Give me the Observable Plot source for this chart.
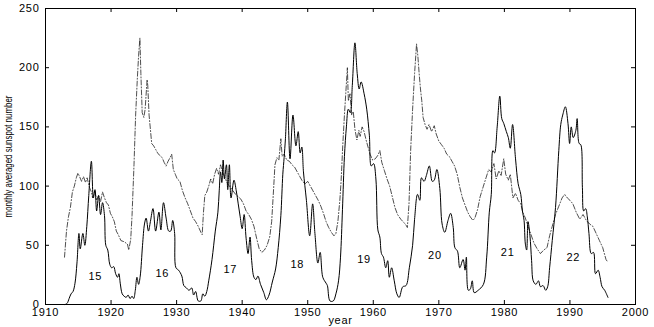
<!DOCTYPE html>
<html><head><meta charset="utf-8">
<script src="https://cdn.jsdelivr.net/npm/d3@7"></script>
<script src="https://cdn.jsdelivr.net/npm/@observablehq/plot@0.6"></script>
<style>
body{margin:0;background:#fff}
#chart svg text{letter-spacing:0.7px}
</style></head><body><div id="chart"></div>
<script>
// Solid line: monthly averaged sunspot number (smoothed)
const sunYears = [1913.0,1913.3,1913.6,1913.9,1914.2,1914.5,1914.8,1915.1,1915.3,1915.7,1916.0,1916.3,1916.6,1917.0,1917.3,1917.55,1917.8,1918.1,1918.4,1918.7,1919.0,1919.2,1919.5,1919.8,1920.1,1920.4,1920.7,1921.0,1921.2,1921.4,1921.7,1922.0,1922.3,1922.6,1922.9,1923.2,1923.45,1923.7,1923.95,1924.2,1924.45,1924.8,1925.1,1925.35,1925.7,1926.0,1926.4,1926.8,1927.3,1927.6,1928.0,1928.4,1928.8,1929.1,1929.4,1929.7,1929.9,1930.3,1930.8,1931.1,1931.5,1931.9,1932.3,1932.6,1932.9,1933.3,1933.7,1934.0,1934.3,1934.6,1934.9,1935.4,1935.9,1936.3,1936.5,1936.7,1936.9,1937.1,1937.3,1937.6,1937.8,1938.05,1938.3,1938.75,1939.1,1939.4,1939.7,1940.0,1940.3,1940.6,1940.9,1941.2,1941.45,1941.8,1942.1,1942.4,1942.8,1943.3,1943.7,1944.1,1944.6,1945.1,1945.5,1945.9,1946.2,1946.4,1946.6,1946.9,1947.3,1947.75,1948.2,1948.55,1948.85,1949.1,1949.35,1949.8,1950.3,1950.75,1951.1,1951.55,1951.9,1952.3,1952.8,1953.0,1953.4,1953.9,1954.3,1954.7,1955.0,1955.3,1955.6,1955.9,1956.2,1956.5,1956.8,1957.2,1957.55,1957.85,1958.15,1958.6,1959.0,1959.4,1959.7,1960.05,1960.4,1960.7,1961.0,1961.25,1961.55,1961.9,1962.2,1962.45,1962.8,1963.2,1963.6,1963.95,1964.5,1965.0,1965.5,1966.0,1966.3,1966.75,1967.1,1967.35,1967.75,1968.1,1968.55,1969.0,1969.3,1969.7,1970.15,1970.5,1970.9,1971.4,1971.8,1972.2,1972.45,1972.85,1973.2,1973.7,1974.0,1974.2,1974.5,1974.8,1975.1,1975.4,1976.0,1976.8,1977.3,1977.7,1978.0,1978.25,1978.5,1978.9,1979.3,1979.6,1979.9,1980.3,1980.6,1980.9,1981.25,1981.7,1982.1,1982.5,1982.75,1983.0,1983.2,1983.4,1983.6,1983.9,1984.15,1984.4,1984.8,1985.2,1985.5,1985.9,1986.3,1986.6,1986.9,1987.3,1987.8,1988.3,1988.6,1988.9,1989.3,1989.7,1989.95,1990.2,1990.5,1990.9,1991.1,1991.4,1991.65,1991.9,1992.1,1992.4,1992.65,1992.9,1993.25,1993.6,1993.9,1994.3,1994.6,1994.9,1995.3,1995.8];
const sunValues = [0,1,5,9,11,18,35,60,47,60,50,66,92,121,90,97,79,92,76,86,75,50,46,34,31,32,26,23,26,18,9,7,6,8,5,7,5,12,23,17,24,50,68,73,62,70,81,62,78,63,86,73,62,62,71,60,31,29,24,16,14,12,14,8,11,3,3,9,7,11,20,38,62,78,96,112,103,122,106,118,97,118,90,105,96,85,74,64,76,56,43,57,37,23,21,24,17,10,4,8,19,30,48,75,110,124,140,171,123,160,134,146,128,133,112,88,58,85,60,35,44,23,18,16,3,3,9,20,40,80,125,150,165,162,185,221,195,182,188,178,165,143,117,119,106,63,57,43,40,31,37,23,31,20,9,6,15,16,31,50,72,93,88,107,104,109,117,104,105,114,98,68,61,71,77,65,48,45,31,38,29,40,12,13,20,10,12,17,40,78,93,130,128,150,176,157,153,146,141,132,152,123,102,93,79,71,51,46,70,58,37,20,17,20,15,16,12,15,31,54,82,130,152,160,167,153,136,150,141,147,157,136,135,99,79,81,74,60,43,44,26,29,23,15,12,6];

// Dash-dot line
const altYears = [1912.9,1913.2,1913.5,1913.8,1914.1,1914.4,1914.7,1914.95,1915.2,1915.5,1915.8,1916.1,1916.35,1916.7,1917.0,1917.2,1917.5,1917.8,1918.1,1918.4,1918.7,1919.0,1919.3,1919.6,1919.9,1920.2,1920.5,1920.8,1921.1,1921.5,1922.0,1922.5,1922.7,1923.0,1923.2,1923.5,1923.75,1924.0,1924.2,1924.4,1924.55,1924.75,1925.0,1925.2,1925.5,1925.6,1925.8,1926.0,1926.2,1926.5,1926.8,1927.1,1927.4,1927.8,1928.1,1928.4,1928.7,1929.0,1929.25,1929.5,1929.8,1930.1,1930.5,1930.9,1931.3,1931.7,1932.1,1932.5,1932.9,1933.3,1933.7,1933.9,1934.1,1934.3,1934.6,1934.9,1935.2,1935.5,1935.8,1936.1,1936.4,1936.7,1937.0,1937.3,1937.6,1937.9,1938.2,1938.6,1939.0,1939.4,1939.8,1940.2,1940.6,1941.0,1941.4,1941.8,1942.2,1942.6,1943.0,1943.4,1943.8,1944.2,1944.5,1944.8,1945.0,1945.3,1945.6,1945.9,1946.1,1946.4,1946.8,1947.2,1947.6,1948.0,1948.4,1948.8,1949.2,1949.6,1950.0,1950.4,1950.8,1951.2,1951.6,1952.0,1952.4,1952.8,1953.2,1953.6,1954.0,1954.3,1954.6,1954.9,1955.1,1955.35,1955.6,1955.8,1956.05,1956.2,1956.45,1956.7,1956.95,1957.2,1957.5,1957.8,1958.0,1958.3,1958.6,1958.9,1959.2,1959.5,1959.9,1960.3,1960.7,1961.0,1961.3,1961.7,1962.1,1962.5,1962.9,1963.3,1963.7,1964.2,1964.7,1965.0,1965.2,1965.45,1965.7,1966.0,1966.3,1966.6,1966.8,1967.0,1967.2,1967.4,1967.6,1967.9,1968.2,1968.5,1968.9,1969.3,1969.6,1970.0,1970.4,1970.8,1971.2,1971.6,1972.0,1972.4,1972.8,1973.2,1973.6,1974.0,1974.4,1974.8,1975.2,1975.5,1975.9,1976.3,1976.8,1977.2,1977.6,1978.0,1978.4,1978.75,1979.15,1979.5,1979.9,1980.2,1980.6,1980.9,1981.3,1981.7,1982.1,1982.5,1982.8,1983.2,1983.6,1984.0,1984.5,1985.0,1985.5,1986.0,1986.5,1986.9,1987.3,1987.8,1988.3,1988.8,1989.2,1989.6,1990.0,1990.45,1990.95,1991.5,1992.0,1992.5,1993.0,1993.5,1994.0,1994.5,1995.0,1995.5,1995.75];
const altValues = [40,62,74,82,95,100,107,111,108,104,108,103,107,99,95,90,96,88,92,87,95,90,86,84,77,74,70,62,59,54,53,51,46,55,75,118,160,190,210,225,195,162,158,165,190,185,160,148,136,134,131,128,126,124,120,117,121,124,127,114,110,106,104,96,90,85,79,73,70,66,61,59,78,92,95,100,106,102,110,115,110,118,112,108,104,101,99,96,93,91,89,85,79,76,72,66,56,47,44,46,50,57,70,98,118,124,122,140,125,127,122,121,118,116,112,108,104,102,104,100,96,92,88,83,77,70,65,61,58,60,70,88,105,135,160,178,200,172,178,160,163,148,139,147,142,150,146,139,133,127,122,123,126,130,120,113,106,100,91,82,76,72,69,67,65,85,130,165,195,220,210,195,182,172,158,152,148,152,146,151,144,138,135,132,127,125,121,117,110,99,90,84,78,74,71,73,80,91,100,107,114,112,119,106,113,109,123,110,105,110,90,94,88,85,78,73,66,60,52,47,43,46,48,58,66,76,83,90,93,90,88,85,78,72,76,71,68,66,60,54,48,38,36];

// Cycle numbers
const cycleLabels = ["15","16","17","18","19","20","21","22"];
const cycleYears = [1917.6,1927.8,1938.2,1948.4,1958.6,1969.4,1980.5,1990.5];
const cycleValues = [24,26,30,34,38,41,44,40];

const xTicks = [1910,1920,1930,1940,1950,1960,1970,1980,1990,2000];
const yTicks = [0,50,100,150,200,250];
const xTitle = ["year"];
const yTitle = ["monthly averaged sunspot number"];

const sun = sunYears.map((t, i) => ({t, v: sunValues[i]}));
const alt = altYears.map((t, i) => ({t, v: altValues[i]}));
const cycles = cycleLabels.map((s, i) => ({s, t: cycleYears[i], v: cycleValues[i]}));

const W = 654, H = 327, mL = 45, mR = 19, mT = 8, mB = 23;
const innerW = W - mL - mR, innerH = H - mT - mB, tk = 4;

const chart = Plot.plot({
  width: W, height: H,
  marginLeft: mL, marginRight: mR, marginTop: mT, marginBottom: mB,
  style: {fontFamily: "'Liberation Sans', Arial, Helvetica, sans-serif", fontSize: "11px", background: "#fff", color: "#000"},
  x: {domain: [1910, 2000], ticks: xTicks, tickFormat: "d", tickSize: 0, tickPadding: 4, label: null},
  y: {domain: [0, 250], ticks: yTicks, tickSize: 0, tickPadding: 6, label: null},
  marks: [
    Plot.line(alt, {x: "t", y: "v", stroke: "#222", strokeWidth: 0.8, strokeDasharray: "5,2,1,2"}),
    Plot.line(sun, {x: "t", y: "v", stroke: "#000", strokeWidth: 1, curve: "catmull-rom"}),
    Plot.text(cycles, {x: "t", y: "v", text: "s", fontSize: 11, fill: "#000"}),
    Plot.tickX(xTicks, {x: d => d, insetTop: innerH - tk, stroke: "#000"}),
    Plot.tickX(xTicks, {x: d => d, insetBottom: innerH - tk, stroke: "#000"}),
    Plot.tickY(yTicks, {y: d => d, insetRight: innerW - tk, stroke: "#000"}),
    Plot.tickY(yTicks, {y: d => d, insetLeft: innerW - tk, stroke: "#000"}),
    Plot.frame({stroke: "#000"}),
    Plot.text(xTitle, {frameAnchor: "bottom", dy: 19, text: d => d, fontSize: 11, fill: "#000"}),
    Plot.text(yTitle, {frameAnchor: "left", dx: -37, rotate: -90, textAnchor: "middle", text: d => d, fontSize: 11, fill: "#000"})
  ]
});
document.getElementById("chart").appendChild(chart);
d3.select(chart).selectAll("text")
  .filter(function(){ return this.textContent === yTitle[0]; })
  .style("letter-spacing", "0px")
  .each(function(){
    const tr = this.getAttribute("transform") || "";
    this.setAttribute("transform", tr + " scale(0.72,1)");
  });
</script></body></html>
